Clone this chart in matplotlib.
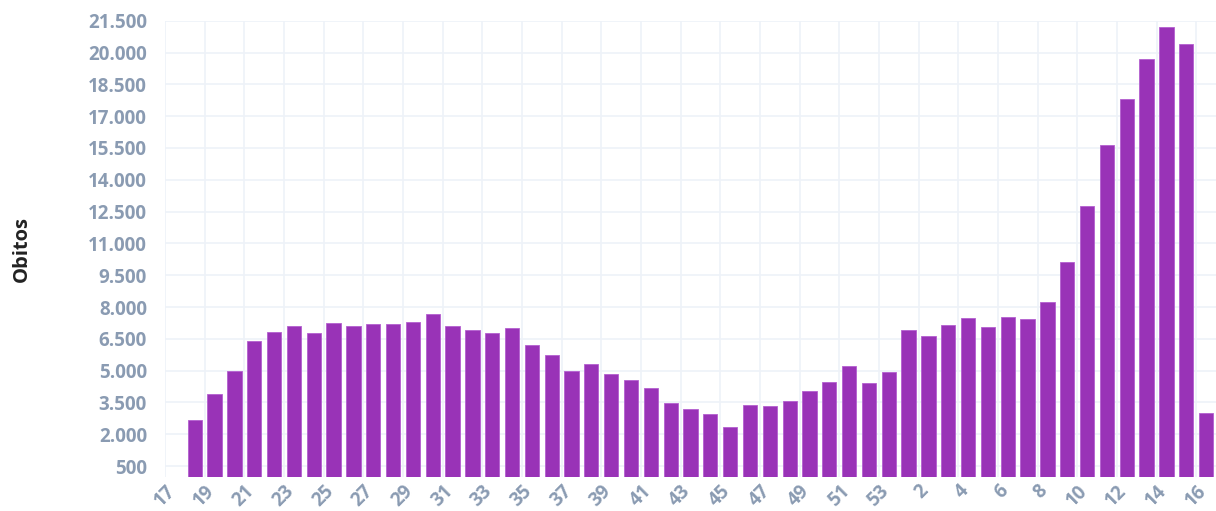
import matplotlib.pyplot as plt
from matplotlib.ticker import FuncFormatter

# weeks: 17..53 of the first year, then 1..16 of the next
weeks = list(range(17, 54)) + list(range(1, 17))
obitos = [0, 2670, 3890, 5000, 6380, 6820, 7100, 6790, 7260, 7100,
          7200, 7200, 7310, 7690, 7100, 6920, 6760, 7030, 6210, 5740,
          5000, 5310, 4860, 4570, 4200, 3480, 3210, 2960, 2360, 3380,
          3320, 3560, 4040, 4480, 5230, 4430, 4920, 6900, 6650, 7140,
          7500, 7060, 7520, 7440, 8240, 10110, 12780, 15650, 17820, 19680,
          21190, 20390, 2990]
y_ticks = list(range(500, 21501, 1500))

bar_color = '#9933b7'
label_color = '#8a9bb2'
grid_color = '#eef2f8'

plt.rcParams['font.family'] = ['Open Sans', 'DejaVu Sans']

fig = plt.figure(figsize=(12.16, 5.11), dpi=100)
ax = fig.add_axes([0.1357, 0.0671, 0.8643, 0.8924])

pos = list(range(len(weeks)))
ax.bar(pos, obitos, width=0.72, color=bar_color, edgecolor='#b45fd0',
       linewidth=0.6, zorder=3)

# ticks sit on the left boundary of every other category
tick_pos = [i - 0.5 for i in pos[::2]]
ax.set_xticks(tick_pos)
ax.set_xticklabels([str(w) for w in weeks[::2]], rotation=45, ha='right',
                   va='top', rotation_mode='anchor')
ax.set_xlim(-0.5, len(weeks) - 0.5)

ax.set_yticks(y_ticks)
ax.yaxis.set_major_formatter(FuncFormatter(lambda v, p: f"{int(v):,}".replace(',', '.')))
ax.set_ylim(0, 21500)

ax.grid(True, color=grid_color, linewidth=1.2, zorder=0)
for s in ax.spines.values():
    s.set_visible(False)
ax.tick_params(axis='both', length=0, colors=label_color, labelsize=13.5)
ax.tick_params(axis='y', pad=13)
ax.tick_params(axis='x', pad=3)
for lbl in ax.get_xticklabels() + ax.get_yticklabels():
    lbl.set_fontweight('bold')

ax.set_ylabel('Obitos', fontsize=14.5, fontweight='bold', color='#222222')
ax.yaxis.set_label_coords(-0.127, 0.5)

fig.savefig('out.png', dpi=100)
